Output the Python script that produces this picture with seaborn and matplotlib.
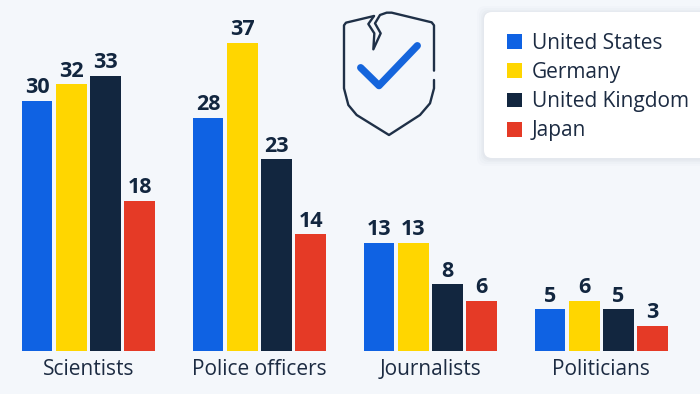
#!/usr/bin/env python3
import matplotlib
matplotlib.use('Agg')
import matplotlib.pyplot as plt
import pandas as pd
import seaborn as sns
from matplotlib.patches import FancyBboxPatch

groups = ['Scientists', 'Police officers', 'Journalists', 'Politicians']
countries = ['United States', 'Germany', 'United Kingdom', 'Japan']
united_states = [30, 28, 13, 5]
germany = [32, 37, 13, 6]
united_kingdom = [33, 23, 8, 5]
japan = [18, 14, 6, 3]
colors = ['#0f62e3', '#ffd600', '#12263f', '#e53a26']

BG = '#f4f7fb'
INK = '#1c2b42'

sns.set_theme(style='white')
plt.rcParams['font.family'] = ['Open Sans', 'DejaVu Sans']

df = pd.DataFrame({
    'group': groups * 4,
    'country': [c for c in countries for _ in groups],
    'share': united_states + germany + united_kingdom + japan,
})

fig = plt.figure(figsize=(7, 3.94), dpi=100, facecolor=BG)

# bars: baseline sits at y=351 px, groups are 171 px apart
ax = fig.add_axes([0, 43 / 394, 1, 351 / 394])
ax.set_facecolor('none')
sns.barplot(data=df, x='group', y='share', hue='country', palette=colors,
            width=0.80, gap=0.10, saturation=1, linewidth=0, ax=ax, legend=True)
ax.set_xlim(-88.4 / 171, (700 - 88.4) / 171)
ax.set_ylim(0, 351 / 8.33)
ax.set_xlabel('')
ax.set_ylabel('')
ax.set_yticks([])
ax.tick_params(axis='x', length=0, pad=17.2, labelsize=15, labelcolor=INK)
for lab in ax.get_xticklabels():
    lab.set_va('baseline')
sns.despine(ax=ax, left=True, bottom=True)
for container in ax.containers:
    ax.bar_label(container, padding=2, fontsize=15.5, fontweight='bold', color='#12263f')
handles, labels = ax.get_legend_handles_labels()
ax.get_legend().remove()

# overlay in pixel coordinates for the legend card and the icon
ov = fig.add_axes([0, 0, 1, 1])
ov.set_xlim(0, 700)
ov.set_ylim(394, 0)
ov.axis('off')
ov.patch.set_alpha(0)

for grow, alpha in [(7, 0.012), (5, 0.015), (3, 0.02), (1.5, 0.025)]:
    ov.add_patch(FancyBboxPatch((484 - grow, 12 - grow + 1), 240 + 2 * grow, 146 + 2 * grow,
                                boxstyle='round,pad=0,rounding_size=8',
                                fc='#30405a', ec='none', alpha=alpha))
ov.add_patch(FancyBboxPatch((484, 12), 240, 146, boxstyle='round,pad=0,rounding_size=8',
                            fc='white', ec='none'))
ov.legend(handles, labels, loc='upper left', bbox_to_anchor=(507, 33),
          bbox_transform=ov.transData, frameon=False, fontsize=15, labelcolor=INK,
          handlelength=0.72, handleheight=0.72, handletextpad=0.48,
          labelspacing=0.39, borderpad=0, borderaxespad=0)

# shield icon
sx = lambda v: 320 + v / 3
sy = lambda v: v / 3
shield_a = [(162, 48), (78, 68), (72, 76), (72, 265), (85, 315), (110, 345), (207, 405),
            (300, 345), (330, 310), (342, 265), (342, 240)]
shield_b = [(342, 212), (342, 76), (335, 67), (215, 38), (200, 38), (180, 45), (165, 70),
            (182, 100), (160, 148), (163, 100), (145, 72), (162, 48)]
for path in (shield_a, shield_b):
    ov.plot([sx(p[0]) for p in path], [sy(p[1]) for p in path], color='#1f3047', lw=1.7,
            solid_joinstyle='round', solid_capstyle='round')
check = [(122, 203), (177, 257), (292, 137)]
ov.plot([sx(p[0]) for p in check], [sy(p[1]) for p in check], color='#1565dc', lw=5.2,
        solid_joinstyle='round', solid_capstyle='round')

fig.savefig('out.png', dpi=100, facecolor=BG)
